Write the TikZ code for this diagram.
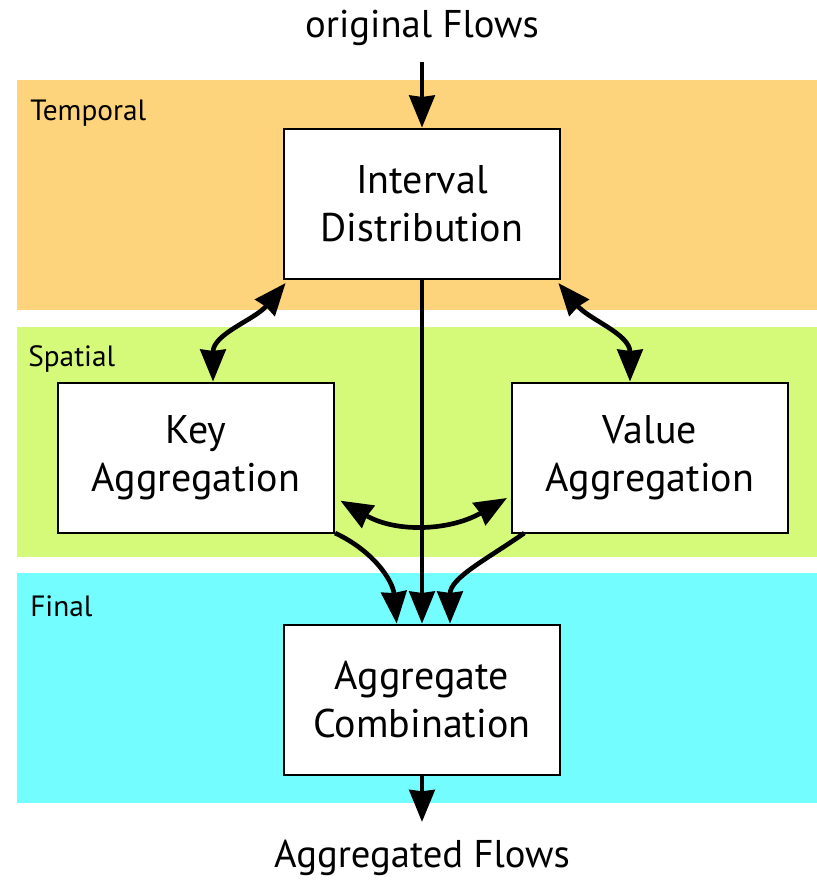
\documentclass[tikz,border=0pt]{standalone}
\usepackage{fontspec}
\setmainfont{PT Sans}
\usetikzlibrary{arrows.meta}
\definecolor{bandorange}{HTML}{FDD37B}
\definecolor{bandgreen}{HTML}{D5FA7A}
\definecolor{bandcyan}{HTML}{73FDFF}
\tikzset{
  box/.style={draw, fill=white, line width=1.6pt, minimum width=207pt, minimum height=113pt,
    align=center, inner sep=0pt, font=\fontsize{30}{36}\selectfont},
  bandlabel/.style={anchor=west, inner sep=0pt, font=\fontsize{22}{26}\selectfont},
  flowtext/.style={inner sep=0pt, font=\fontsize{29}{34}\selectfont},
  tipbig/.tip={Stealth[length=24pt,width=19pt,inset=1pt]},
  conn/.style={line width=3.5pt, -tipbig},
  dconn/.style={line width=3.5pt, tipbig-tipbig}
}
\begin{document}
\begin{tikzpicture}[x=0.75pt,y=-0.75pt]
\useasboundingbox (0,0) rectangle (817,882);
\fill[bandorange] (17,80) rectangle (817,310);
\fill[bandgreen] (17,327) rectangle (817,557);
\fill[bandcyan] (17,573) rectangle (817,803);
\node[bandlabel] (lt) at (30,113) {Temporal};
\node[bandlabel] (ls) at (28,359) {Spatial};
\node[bandlabel] (lf) at (30,606) {Final};

\node[flowtext] (of) at (422,28) {original Flows};
\node[flowtext] (af) at (422,858) {Aggregated Flows};

\node[box] (id) at (422,204) {Interval\\Distribution};
\node[box] (key) at (196,458) {\raisebox{-4pt}{Key}\\\raisebox{-4pt}{Aggregation}};
\node[box] (val) at (650,458) {\raisebox{-4pt}{Value}\\\raisebox{-4pt}{Aggregation}};
\node[box] (agg) at (422,700) {Aggregate\\Combination};

\coordinate (ofend) at (422,62);
\coordinate (afend) at (422,822);

\draw[conn] (ofend) -- (id.north);
\draw[conn] (id.south) -- (agg.north);
\draw[conn] (agg.south) -- (afend);

\draw[dconn] ([xshift=2pt,yshift=-2pt]id.south west) to[out=-130,in=90] ([xshift=12.75pt]key.north);
\draw[dconn] ([xshift=-2pt,yshift=-2pt]id.south east) to[out=-50,in=90] ([xshift=-15pt]val.north);
\draw[dconn] ([xshift=4pt,yshift=-32pt]key.east) to[out=-30,in=-150] ([xshift=-3pt,yshift=-30pt]val.west);

\draw[conn] ([yshift=1pt]key.south east) to[out=-25,in=95] ([xshift=-19pt]agg.north);
\draw[conn] ([xshift=10pt,yshift=1pt]val.south west) to[out=-145,in=90] ([xshift=21pt]agg.north);
\end{tikzpicture}
\end{document}
